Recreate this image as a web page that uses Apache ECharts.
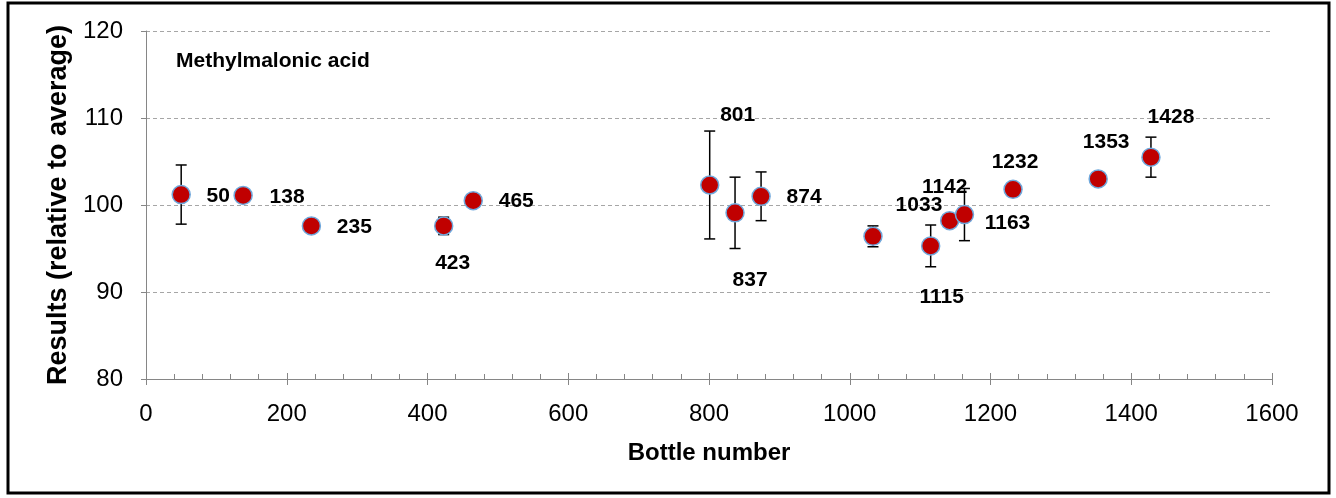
<!DOCTYPE html>
<html>
<head>
<meta charset="utf-8">
<script src="https://cdn.jsdelivr.net/npm/echarts@6/dist/echarts.min.js"></script>
<style>
html,body{margin:0;padding:0;background:#fff;}
#chart{width:1336px;height:498px;}
</style>
</head>
<body>
<div id="chart"></div>
<script>
// Data
const bottles = [50, 138, 235, 423, 465, 801, 837, 874, 1033, 1115, 1142, 1163, 1232, 1353, 1428];
const results = [101.2, 101.1, 97.6, 97.6, 100.5, 102.3, 99.1, 101.0, 96.4, 95.3, 98.2, 98.9, 101.8, 103.0, 105.5];
const errors  = [3.4, 0, 0, 1.0, 0, 6.2, 4.1, 2.8, 1.2, 2.4, 0, 3.0, 0, 0, 2.3];
const yTicks = [80, 90, 100, 110, 120];
const xTicks = [0, 200, 400, 600, 800, 1000, 1200, 1400, 1600];

// Label placement (layout only)
const labelOffsets = [[37,2],[44,2],[43,1],[9,37],[43,1],[28,-70],[15,67],[43,1],[46,-31],[11,51],[-5,-33],[43,9],[2,-27],[8,-37],[20,-40]];

const FONT = '"Liberation Sans", Arial, Helvetica, sans-serif';

const scatterData = bottles.map((b, i) => ({
  value: [b, results[i]],
  label: { offset: labelOffsets[i] }
}));
const errData = bottles.map((b, i) => [b, results[i], errors[i]]);

const chart = echarts.init(document.getElementById('chart'));
const axisGray = '#868686';

chart.setOption({
  animation: false,
  backgroundColor: '#fff',
  grid: { left: 146, right: 64, top: 31, bottom: 119, containLabel: false },
  graphic: [
    { type: 'rect', shape: { x: 8, y: 3, width: 1321, height: 490 },
      style: { fill: 'none', stroke: '#000', lineWidth: 3 }, z: 100 },
    { type: 'text', left: 176, top: 51,
      style: { text: 'Methylmalonic acid', font: 'bold 21px ' + FONT, fill: '#000' } }
  ],
  xAxis: [{
    type: 'value', min: xTicks[0], max: xTicks[xTicks.length - 1], interval: 200,
    name: 'Bottle number', nameLocation: 'middle', nameGap: 62,
    nameTextStyle: { fontFamily: FONT, fontWeight: 'bold', fontSize: 24, color: '#000' },
    axisLine: { show: true, lineStyle: { color: axisGray, width: 1 } },
    axisTick: { show: true, inside: true, length: 6, lineStyle: { color: axisGray } },
    minorTick: { show: true, splitNumber: 5, length: 5, lineStyle: { color: axisGray } },
    axisLabel: { fontFamily: FONT, fontSize: 24, color: '#000', margin: 23,
      formatter: function (v) { return String(v); } },
    splitLine: { show: false }
  }, {
    type: 'value', min: xTicks[0], max: xTicks[xTicks.length - 1], interval: 200,
    position: 'bottom', offset: 0,
    axisLine: { show: false },
    axisTick: { show: true, inside: false, length: 6, lineStyle: { color: axisGray } },
    axisLabel: { show: false },
    splitLine: { show: false }
  }],
  yAxis: {
    type: 'value', min: yTicks[0], max: yTicks[yTicks.length - 1], interval: 10,
    name: 'Results (relative to average)', nameLocation: 'middle', nameGap: 71,
    nameTextStyle: { fontFamily: FONT, fontWeight: 'bold', fontSize: 27, color: '#000' },
    axisLine: { show: true, lineStyle: { color: axisGray, width: 1 } },
    axisTick: { show: true, inside: false, length: 5, lineStyle: { color: axisGray } },
    axisLabel: { fontFamily: FONT, fontSize: 24, color: '#000', margin: 23 },
    splitLine: { show: true, lineStyle: { color: '#A6A6A6', type: [4, 3], width: 1 } }
  },
  series: [{
    type: 'custom',
    xAxisIndex: 0,
    z: 2,
    data: errData,
    renderItem: function (params, api) {
      const x = api.value(0), y = api.value(1), e = api.value(2);
      if (!e) return null;
      const top = api.coord([x, y + e]);
      const bot = api.coord([x, y - e]);
      const cw = 5.5;
      const style = { stroke: '#000', lineWidth: 1.5 };
      return {
        type: 'group',
        children: [
          { type: 'line', shape: { x1: top[0], y1: top[1], x2: bot[0], y2: bot[1] }, style: style },
          { type: 'line', shape: { x1: top[0] - cw, y1: top[1], x2: top[0] + cw, y2: top[1] }, style: style },
          { type: 'line', shape: { x1: bot[0] - cw, y1: bot[1], x2: bot[0] + cw, y2: bot[1] }, style: style }
        ]
      };
    }
  }, {
    type: 'scatter',
    xAxisIndex: 0,
    z: 3,
    symbol: 'circle',
    symbolSize: 18,
    itemStyle: { color: '#C00000', borderColor: '#6FA8DC', borderWidth: 1.5, opacity: 1 },
    label: {
      show: true, position: 'inside',
      formatter: function (p) { return String(p.value[0]); },
      fontFamily: FONT, fontWeight: 'bold', fontSize: 21, color: '#000'
    },
    emphasis: { disabled: true },
    data: scatterData
  }]
});
</script>
</body>
</html>
